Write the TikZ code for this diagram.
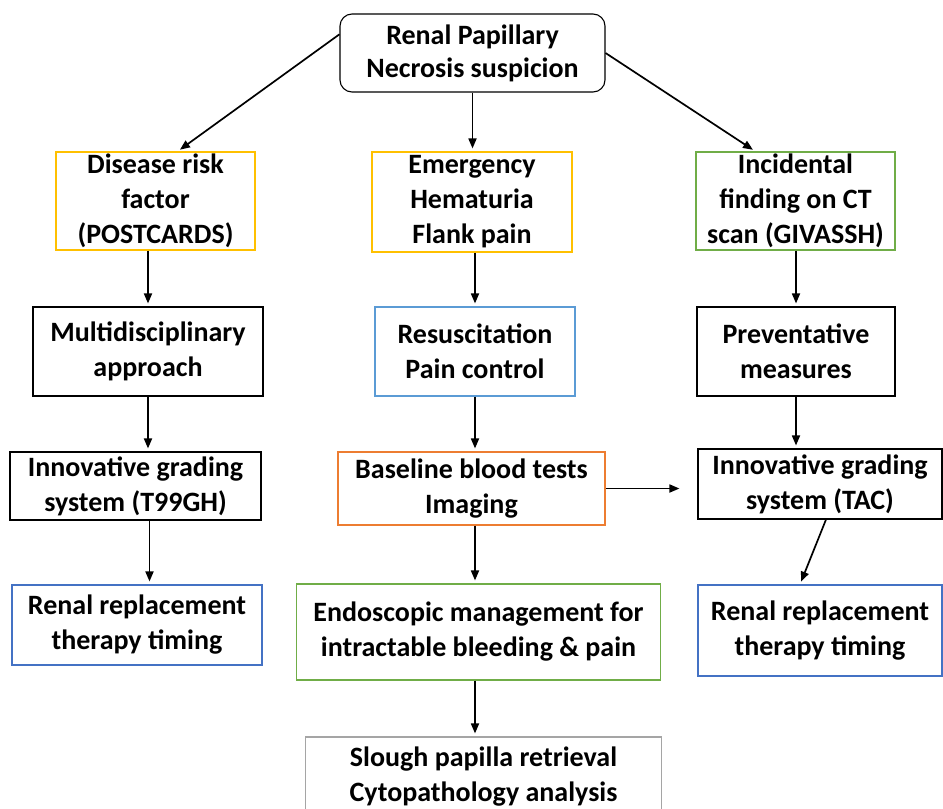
\documentclass[tikz,border=0pt]{standalone}
\usepackage{fontspec}
\setmainfont{Carlito}
\usepackage{tikz}
\usetikzlibrary{arrows.meta, positioning, calc}
\usepackage{xcolor}
\definecolor{amber}{HTML}{FFC000}
\definecolor{leaf}{HTML}{70AD47}
\definecolor{steel}{HTML}{4472C4}
\definecolor{sky}{HTML}{5B9BD5}
\definecolor{carrot}{HTML}{ED7D31}
\definecolor{ash}{HTML}{A5A5A5}

\tikzset{
  stepbox/.style={draw, line width=1.1pt, align=center, inner sep=0pt,
    font=\fontsize{28}{35}\selectfont\bfseries},
  arr/.style={-{Triangle[length=10pt,width=8pt]}, line width=1.7pt, shorten >=3pt}
}

\begin{document}
\begin{tikzpicture}[x=1pt, y=-1pt]
  \useasboundingbox (0,0) rectangle (943,809);

  % Top
  \node[stepbox, rounded corners=12pt, minimum width=265pt, minimum height=78pt] (top) at (472.5,53) {Renal Papillary\\[-2pt]Necrosis suspicion};

  % First row
  \node[stepbox, amber, text=black, minimum width=199pt, minimum height=98pt] (risk) at (155.5,201) {Disease risk\\factor\\(POSTCARDS)};
  \node[stepbox, amber, text=black, minimum width=200pt, minimum height=100pt] (emerg) at (472,202) {Emergency\\Hematuria\\Flank pain};
  \node[stepbox, leaf, text=black, minimum width=199pt, minimum height=98pt] (incid) at (795.5,201) {Incidental\\finding on CT\\scan (GIVASSH)};

  % Second row
  \node[stepbox, minimum width=230pt, minimum height=89pt] (multi) at (148,351.5) {Multidisciplinary\\approach};
  \node[stepbox, sky, text=black, minimum width=200pt, minimum height=89pt] (resus) at (475,351.5) {Resuscitation\\Pain control};
  \node[stepbox, minimum width=198pt, minimum height=89pt] (prevent) at (796,351.5) {Preventative\\measures};

  % Third row
  \node[stepbox, minimum width=251pt, minimum height=68pt] (gradeA) at (135.5,486) {Innovative grading\\system (T99GH)};
  \node[stepbox, carrot, text=black, minimum width=267pt, minimum height=73pt] (baseline) at (471.5,488.5) {Baseline blood tests\\Imaging};
  \node[stepbox, minimum width=244pt, minimum height=70pt] (gradeB) at (820,484) {Innovative grading\\system (TAC)};

  % Fourth row
  \node[stepbox, steel, text=black, minimum width=250pt, minimum height=80pt] (renalA) at (137,625) {Renal replacement\\therapy timing};
  \node[stepbox, leaf, text=black, minimum width=364pt, minimum height=96pt] (endo) at (478.5,632) {Endoscopic management for\\intractable bleeding \& pain};
  \node[stepbox, steel, text=black, minimum width=244pt, minimum height=91pt] (renalB) at (820,630.5) {Renal replacement\\therapy timing};

  % Last
  \node[stepbox, ash, text=black, minimum width=356pt, minimum height=80pt] (slough) at (483.5,777) {Slough papilla retrieval\\Cytopathology analysis};

  % Connectors
  \draw[arr] (top.172) -- ([xshift=22pt]risk.north);
  \draw[arr] (top.south) -- (top.south |- emerg.north);
  \draw[arr] (top.east) -- ([xshift=-40pt]incid.north);

  \draw[arr] (multi.north |- risk.south) -- (multi.north);
  \draw[arr] (multi.south) -- (multi.south |- gradeA.north);
  \draw[arr] ([xshift=14pt]gradeA.south) -- ([xshift=14pt]gradeA.south |- renalA.north);

  \draw[arr] (resus.north |- emerg.south) -- (resus.north);
  \draw[arr] (resus.south) -- (resus.south |- baseline.north);
  \draw[arr] (resus.south |- baseline.south) -- (resus.south |- endo.north);
  \draw[arr] (resus.south |- endo.south) -- (resus.south |- slough.north);

  \draw[arr] (prevent.north |- incid.south) -- (prevent.north);
  \draw[arr] (prevent.south) -- (prevent.south |- gradeB.north);
  \draw[arr, shorten >=18pt] (baseline.east) -- (baseline.east -| gradeB.west);
  \draw[arr] ([xshift=6pt]gradeB.south) -- ([xshift=-20pt]renalB.north);
\end{tikzpicture}
\end{document}
